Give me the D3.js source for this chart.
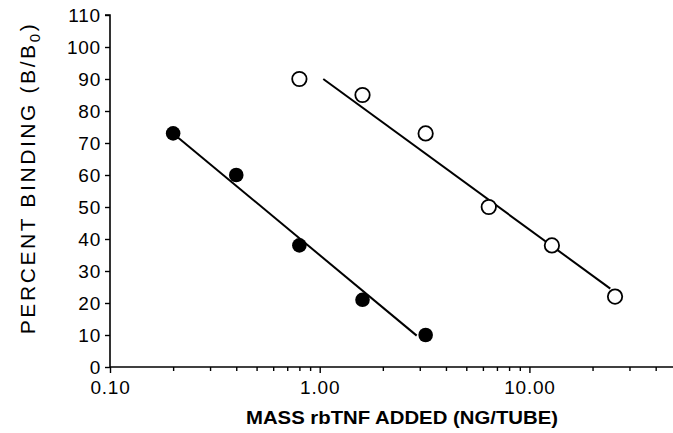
<!DOCTYPE html>
<html>
<head>
<meta charset="utf-8">
<script src="https://cdn.jsdelivr.net/npm/d3@7"></script>
<style>
  html, body { margin: 0; padding: 0; background: #fff; }
  svg { display: block; }
  text { font-family: "Liberation Sans", Arial, Helvetica, sans-serif; fill: #000; }
</style>
</head>
<body>
<svg id="chart" width="673" height="433"></svg>
<script>
// ---- data ----
const filledX = [0.2, 0.4, 0.8, 1.6, 3.2];
const filledY = [73, 60, 38, 21, 10];
const openX = [0.8, 1.6, 3.2, 6.4, 12.8, 25.6];
const openY = [90, 85, 73, 50, 38, 22];
const filledFitX = [0.2, 2.9];
const filledFitY = [73, 9.8];
const openFitX = [1.04, 24.3];
const openFitY = [90, 24.5];
const yTicks = [0, 10, 20, 30, 40, 50, 60, 70, 80, 90, 100, 110];
const xMajorTicks = [0.1, 1, 10];
const xTickLabels = ["0.10", "1.00", "10.00"];
const xMinorTicks = [0.2, 0.3, 0.4, 0.5, 0.6, 0.7, 0.8, 0.9, 2, 3, 4, 5, 6, 7, 8, 9, 20, 30, 40];
const xTitle = "MASS rbTNF ADDED (NG/TUBE)";
const yTitle = "PERCENT BINDING  (B/B";

// ---- layout ----
const svg = d3.select("#chart");
const x = d3.scaleLog().domain([0.1, 50]).range([110, 676]);
const y = d3.scaleLinear().domain([0, 110]).range([367, 15]);

// y axis
const yAxis = d3.axisLeft(y).tickValues(yTicks).tickFormat(d3.format("d")).tickSize(5).tickPadding(4);
const gy = svg.append("g").attr("transform", `translate(${x(0.1)},0)`).call(yAxis);
gy.select(".domain").attr("stroke", "#000").attr("stroke-width", 1.6).attr("d", `M-5,${y(110)}H0V${y(0)}`);
gy.selectAll(".tick line").attr("stroke", "#000").attr("stroke-width", 1.4);
gy.selectAll(".tick text").attr("font-size", 19).attr("letter-spacing", 0.8).attr("font-family", "Liberation Sans, Arial, sans-serif");

// x axis major
const xAxis = d3.axisBottom(x).tickValues(xMajorTicks).tickFormat((d, i) => xTickLabels[i]).tickSize(6).tickPadding(8);
const gx = svg.append("g").attr("transform", `translate(0,${y(0)})`).call(xAxis);
gx.select(".domain").attr("stroke", "#000").attr("stroke-width", 1.6).attr("d", `M${x(0.1)},0H673`);
gx.selectAll(".tick line").attr("stroke", "#000").attr("stroke-width", 1.4);
gx.selectAll(".tick text").attr("font-size", 19).attr("letter-spacing", 0.8).attr("font-family", "Liberation Sans, Arial, sans-serif");

// x axis minor
const xMinor = d3.axisBottom(x).tickValues(xMinorTicks).tickFormat("").tickSize(4);
const gxm = svg.append("g").attr("transform", `translate(0,${y(0)})`).call(xMinor);
gxm.select(".domain").remove();
gxm.selectAll(".tick line").attr("stroke", "#000").attr("stroke-width", 1.4);

// fit lines
const line = d3.line().x(d => x(d[0])).y(d => y(d[1]));
svg.append("path").datum(d3.zip(filledFitX, filledFitY)).attr("d", line)
  .attr("fill", "none").attr("stroke", "#000").attr("stroke-width", 2);
svg.append("path").datum(d3.zip(openFitX, openFitY)).attr("d", line)
  .attr("fill", "none").attr("stroke", "#000").attr("stroke-width", 2);

// points
svg.append("g").selectAll("circle").data(d3.zip(filledX, filledY)).join("circle")
  .attr("cx", d => x(d[0])).attr("cy", d => y(d[1])).attr("r", 7.3).attr("fill", "#000");
svg.append("g").selectAll("circle").data(d3.zip(openX, openY)).join("circle")
  .attr("cx", d => x(d[0])).attr("cy", d => y(d[1])).attr("r", 7.2)
  .attr("fill", "#fff").attr("stroke", "#000").attr("stroke-width", 1.8);

// titles
svg.append("text").attr("x", 402).attr("y", 424).attr("text-anchor", "middle")
  .attr("font-size", 18).attr("font-weight", "bold")
  .attr("textLength", 312).attr("lengthAdjust", "spacingAndGlyphs")
  .text(xTitle);

const yt = svg.append("text").attr("transform", "translate(35,178) rotate(-90)")
  .attr("text-anchor", "middle").attr("font-size", 21).attr("letter-spacing", 2.6);
yt.append("tspan").text(yTitle);
yt.append("tspan").attr("font-size", 15).attr("dy", 5).text("0");
yt.append("tspan").attr("dy", -5).text(")");
</script>
</body>
</html>
